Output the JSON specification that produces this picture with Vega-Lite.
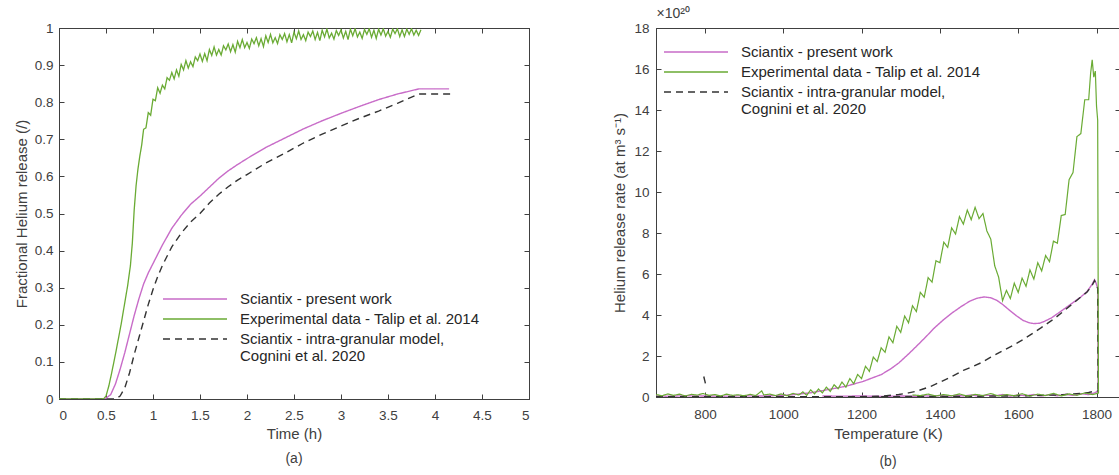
{
  "$schema": "https://vega.github.io/schema/vega-lite/v6.json",
  "padding": {"left": 13, "top": 6, "right": 0, "bottom": 5},
  "autosize": {"type": "pad"},
  "background": "white",
  "config": {
    "font": "Liberation Sans",
    "view": {"stroke": "#404040", "strokeWidth": 1},
    "concat": {"spacing": 127},
    "axis": {
      "grid": false,
      "domainColor": "#404040",
      "tickColor": "#404040",
      "tickSize": -5,
      "labelColor": "#404040",
      "labelFontSize": 13.5,
      "titleColor": "#404040",
      "titleFontSize": 15,
      "titleFontWeight": "normal"
    },
    "legend": {
      "orient": "none",
      "symbolType": "M-4,0H4",
      "symbolSize": 256,
      "symbolStrokeWidth": 1.5,
      "labelFontSize": 15,
      "labelColor": "#262626",
      "labelOffset": 36,
      "labelLimit": 500,
      "rowPadding": 3,
      "padding": 0,
      "title": null
    },
    "title": {"orient": "bottom", "fontSize": 14, "fontWeight": "normal", "color": "#404040"}
  },
  "bounds": "flush",
  "resolve": {"legend": {"color": "independent", "strokeDash": "independent"}},
  "datasets": {
    "a": [
      {"s":"S","t":0,"f":0},{"s":"S","t":0.45,"f":0},{"s":"S","t":0.5,"f":0.002},{"s":"S","t":0.55,"f":0.012},{"s":"S","t":0.6,"f":0.04},{"s":"S","t":0.65,"f":0.08},{"s":"S","t":0.7,"f":0.125},{"s":"S","t":0.75,"f":0.175},{"s":"S","t":0.8,"f":0.225},{"s":"S","t":0.85,"f":0.27},{"s":"S","t":0.9,"f":0.31},{"s":"S","t":0.95,"f":0.34},{"s":"S","t":1.0,"f":0.365},{"s":"S","t":1.1,"f":0.415},{"s":"S","t":1.2,"f":0.46},{"s":"S","t":1.3,"f":0.495},{"s":"S","t":1.4,"f":0.525},{"s":"S","t":1.5,"f":0.547},{"s":"S","t":1.6,"f":0.571},{"s":"S","t":1.7,"f":0.595},{"s":"S","t":1.8,"f":0.615},{"s":"S","t":1.9,"f":0.632},{"s":"S","t":2.0,"f":0.648},{"s":"S","t":2.2,"f":0.678},{"s":"S","t":2.4,"f":0.703},{"s":"S","t":2.6,"f":0.728},{"s":"S","t":2.8,"f":0.75},{"s":"S","t":3.0,"f":0.77},{"s":"S","t":3.2,"f":0.789},{"s":"S","t":3.4,"f":0.807},{"s":"S","t":3.6,"f":0.822},{"s":"S","t":3.83,"f":0.836},{"s":"S","t":4.15,"f":0.836},
      {"s":"E","t":0,"f":0},{"s":"E","t":0.45,"f":0},{"s":"E","t":0.48,"f":0.002},{"s":"E","t":0.5,"f":0.008},{"s":"E","t":0.53,"f":0.035},{"s":"E","t":0.56,"f":0.07},{"s":"E","t":0.6,"f":0.12},{"s":"E","t":0.63,"f":0.16},{"s":"E","t":0.66,"f":0.2},{"s":"E","t":0.7,"f":0.26},{"s":"E","t":0.73,"f":0.305},{"s":"E","t":0.76,"f":0.36},{"s":"E","t":0.78,"f":0.42},{"s":"E","t":0.8,"f":0.51},{"s":"E","t":0.82,"f":0.575},{"s":"E","t":0.84,"f":0.62},{"s":"E","t":0.86,"f":0.655},{"s":"E","t":0.88,"f":0.685},
      {"s":"E","t":0.9,"f":0.727},{"s":"E","t":0.925,"f":0.731},{"s":"E","t":0.95,"f":0.772},{"s":"E","t":0.975,"f":0.765},{"s":"E","t":1.0,"f":0.808},{"s":"E","t":1.025,"f":0.804},{"s":"E","t":1.05,"f":0.839},{"s":"E","t":1.075,"f":0.824},{"s":"E","t":1.1,"f":0.846},{"s":"E","t":1.125,"f":0.836},{"s":"E","t":1.15,"f":0.866},{"s":"E","t":1.175,"f":0.859},{"s":"E","t":1.2,"f":0.88},{"s":"E","t":1.225,"f":0.863},{"s":"E","t":1.25,"f":0.887},{"s":"E","t":1.275,"f":0.87},{"s":"E","t":1.3,"f":0.902},{"s":"E","t":1.325,"f":0.887},{"s":"E","t":1.35,"f":0.912},{"s":"E","t":1.375,"f":0.892},{"s":"E","t":1.4,"f":0.909},{"s":"E","t":1.425,"f":0.896},{"s":"E","t":1.45,"f":0.922},{"s":"E","t":1.475,"f":0.912},{"s":"E","t":1.5,"f":0.93},{"s":"E","t":1.525,"f":0.91},{"s":"E","t":1.55,"f":0.931},{"s":"E","t":1.575,"f":0.912},{"s":"E","t":1.6,"f":0.942},{"s":"E","t":1.625,"f":0.926},{"s":"E","t":1.65,"f":0.949},{"s":"E","t":1.675,"f":0.927},{"s":"E","t":1.7,"f":0.942},{"s":"E","t":1.725,"f":0.927},{"s":"E","t":1.75,"f":0.952},{"s":"E","t":1.775,"f":0.941},{"s":"E","t":1.8,"f":0.957},{"s":"E","t":1.825,"f":0.936},{"s":"E","t":1.85,"f":0.955},{"s":"E","t":1.875,"f":0.935},{"s":"E","t":1.9,"f":0.964},{"s":"E","t":1.925,"f":0.947},{"s":"E","t":1.95,"f":0.969},{"s":"E","t":1.975,"f":0.947},{"s":"E","t":2.0,"f":0.961},{"s":"E","t":2.025,"f":0.945},{"s":"E","t":2.05,"f":0.97},{"s":"E","t":2.075,"f":0.958},{"s":"E","t":2.1,"f":0.974},{"s":"E","t":2.125,"f":0.952},{"s":"E","t":2.15,"f":0.971},{"s":"E","t":2.175,"f":0.95},{"s":"E","t":2.2,"f":0.979},{"s":"E","t":2.225,"f":0.961},{"s":"E","t":2.25,"f":0.983},{"s":"E","t":2.275,"f":0.96},{"s":"E","t":2.3,"f":0.974},{"s":"E","t":2.325,"f":0.958},{"s":"E","t":2.35,"f":0.982},{"s":"E","t":2.375,"f":0.969},{"s":"E","t":2.4,"f":0.985},{"s":"E","t":2.425,"f":0.963},{"s":"E","t":2.45,"f":0.982},{"s":"E","t":2.475,"f":0.96},{"s":"E","t":2.5,"f":0.989},{"s":"E","t":2.525,"f":0.971},{"s":"E","t":2.55,"f":0.992},{"s":"E","t":2.575,"f":0.969},{"s":"E","t":2.6,"f":0.982},{"s":"E","t":2.625,"f":0.966},{"s":"E","t":2.65,"f":0.989},{"s":"E","t":2.675,"f":0.977},{"s":"E","t":2.7,"f":0.992},{"s":"E","t":2.725,"f":0.969},{"s":"E","t":2.75,"f":0.988},{"s":"E","t":2.775,"f":0.966},{"s":"E","t":2.8,"f":0.994},{"s":"E","t":2.825,"f":0.976},{"s":"E","t":2.85,"f":0.997},{"s":"E","t":2.875,"f":0.973},{"s":"E","t":2.9,"f":0.986},{"s":"E","t":2.925,"f":0.97},{"s":"E","t":2.95,"f":0.993},{"s":"E","t":2.975,"f":0.98},{"s":"E","t":3.0,"f":0.995},{"s":"E","t":3.025,"f":0.973},{"s":"E","t":3.05,"f":0.991},{"s":"E","t":3.075,"f":0.969},{"s":"E","t":3.1,"f":0.997},{"s":"E","t":3.125,"f":0.979},{"s":"E","t":3.15,"f":0.998},{"s":"E","t":3.175,"f":0.976},{"s":"E","t":3.2,"f":0.989},{"s":"E","t":3.225,"f":0.972},{"s":"E","t":3.25,"f":0.996},{"s":"E","t":3.275,"f":0.983},{"s":"E","t":3.3,"f":0.998},{"s":"E","t":3.325,"f":0.975},{"s":"E","t":3.35,"f":0.994},{"s":"E","t":3.375,"f":0.972},{"s":"E","t":3.4,"f":0.997},{"s":"E","t":3.425,"f":0.981},{"s":"E","t":3.45,"f":0.998},{"s":"E","t":3.475,"f":0.978},{"s":"E","t":3.5,"f":0.991},{"s":"E","t":3.525,"f":0.975},{"s":"E","t":3.55,"f":0.997},{"s":"E","t":3.575,"f":0.985},{"s":"E","t":3.6,"f":0.998},{"s":"E","t":3.625,"f":0.977},{"s":"E","t":3.65,"f":0.995},{"s":"E","t":3.675,"f":0.977},{"s":"E","t":3.7,"f":0.997},{"s":"E","t":3.725,"f":0.983},{"s":"E","t":3.75,"f":0.998},{"s":"E","t":3.775,"f":0.981},{"s":"E","t":3.8,"f":0.994},{"s":"E","t":3.825,"f":0.98},{"s":"E","t":3.85,"f":0.995},
      {"s":"C","t":0,"f":0},{"s":"C","t":0.6,"f":0},{"s":"C","t":0.65,"f":0.008},{"s":"C","t":0.7,"f":0.03},{"s":"C","t":0.75,"f":0.07},{"s":"C","t":0.8,"f":0.12},{"s":"C","t":0.85,"f":0.165},{"s":"C","t":0.9,"f":0.21},{"s":"C","t":0.95,"f":0.255},{"s":"C","t":1.0,"f":0.295},{"s":"C","t":1.05,"f":0.33},{"s":"C","t":1.1,"f":0.36},{"s":"C","t":1.2,"f":0.41},{"s":"C","t":1.3,"f":0.447},{"s":"C","t":1.4,"f":0.477},{"s":"C","t":1.5,"f":0.5},{"s":"C","t":1.6,"f":0.528},{"s":"C","t":1.7,"f":0.552},{"s":"C","t":1.8,"f":0.572},{"s":"C","t":1.9,"f":0.59},{"s":"C","t":2.0,"f":0.605},{"s":"C","t":2.2,"f":0.636},{"s":"C","t":2.4,"f":0.662},{"s":"C","t":2.6,"f":0.69},{"s":"C","t":2.8,"f":0.714},{"s":"C","t":3.0,"f":0.736},{"s":"C","t":3.2,"f":0.757},{"s":"C","t":3.4,"f":0.776},{"s":"C","t":3.6,"f":0.797},{"s":"C","t":3.83,"f":0.822},{"s":"C","t":4.17,"f":0.822}
    ],
    "b": [
      {"s":"S","g":"m","T":675,"r":0.05},{"s":"S","g":"m","T":700,"r":0.04},{"s":"S","g":"m","T":750,"r":0.06},{"s":"S","g":"m","T":800,"r":0.05},{"s":"S","g":"m","T":850,"r":0.04},{"s":"S","g":"m","T":900,"r":0.06},{"s":"S","g":"m","T":950,"r":0.05},{"s":"S","g":"m","T":1000,"r":0.08},{"s":"S","g":"m","T":1023,"r":0.11},{"s":"S","g":"m","T":1068,"r":0.2},{"s":"S","g":"m","T":1114,"r":0.36},{"s":"S","g":"m","T":1159,"r":0.52},{"s":"S","g":"m","T":1204,"r":0.76},{"s":"S","g":"m","T":1230,"r":0.95},{"s":"S","g":"m","T":1250,"r":1.09},{"s":"S","g":"m","T":1275,"r":1.38},{"s":"S","g":"m","T":1295,"r":1.66},{"s":"S","g":"m","T":1320,"r":2.1},{"s":"S","g":"m","T":1340,"r":2.47},{"s":"S","g":"m","T":1365,"r":2.95},{"s":"S","g":"m","T":1386,"r":3.37},{"s":"S","g":"m","T":1410,"r":3.78},{"s":"S","g":"m","T":1431,"r":4.1},{"s":"S","g":"m","T":1455,"r":4.42},{"s":"S","g":"m","T":1476,"r":4.67},{"s":"S","g":"m","T":1495,"r":4.82},{"s":"S","g":"m","T":1513,"r":4.88},{"s":"S","g":"m","T":1530,"r":4.84},{"s":"S","g":"m","T":1545,"r":4.72},{"s":"S","g":"m","T":1560,"r":4.52},{"s":"S","g":"m","T":1576,"r":4.26},{"s":"S","g":"m","T":1595,"r":3.97},{"s":"S","g":"m","T":1612,"r":3.74},{"s":"S","g":"m","T":1628,"r":3.62},{"s":"S","g":"m","T":1640,"r":3.58},{"s":"S","g":"m","T":1655,"r":3.6},{"s":"S","g":"m","T":1667,"r":3.69},{"s":"S","g":"m","T":1685,"r":3.86},{"s":"S","g":"m","T":1703,"r":4.1},{"s":"S","g":"m","T":1720,"r":4.33},{"s":"S","g":"m","T":1739,"r":4.59},{"s":"S","g":"m","T":1760,"r":4.88},{"s":"S","g":"m","T":1776,"r":5.15},{"s":"S","g":"m","T":1789,"r":5.5},{"s":"S","g":"m","T":1795,"r":5.72},{"s":"S","g":"m","T":1799,"r":5.55},{"s":"S","g":"m","T":1803,"r":5.3},{"s":"S","g":"m","T":1804,"r":0.3},
      {"s":"S","g":"r","T":1805,"r":0.3},{"s":"S","g":"r","T":1795,"r":0.2},{"s":"S","g":"r","T":1780,"r":0.12},{"s":"S","g":"r","T":1760,"r":0.16},{"s":"S","g":"r","T":1740,"r":0.08},{"s":"S","g":"r","T":1720,"r":0.13},{"s":"S","g":"r","T":1700,"r":0.06},{"s":"S","g":"r","T":1680,"r":0.11},{"s":"S","g":"r","T":1660,"r":0.05},{"s":"S","g":"r","T":1640,"r":0.12},{"s":"S","g":"r","T":1620,"r":0.06},{"s":"S","g":"r","T":1600,"r":0.1},{"s":"S","g":"r","T":1580,"r":0.04},{"s":"S","g":"r","T":1560,"r":0.12},{"s":"S","g":"r","T":1540,"r":0.05},{"s":"S","g":"r","T":1520,"r":0.09},{"s":"S","g":"r","T":1500,"r":0.04},{"s":"S","g":"r","T":1480,"r":0.1},{"s":"S","g":"r","T":1460,"r":0.05},{"s":"S","g":"r","T":1440,"r":0.08},{"s":"S","g":"r","T":1420,"r":0.03},{"s":"S","g":"r","T":1400,"r":0.07},{"s":"S","g":"r","T":1380,"r":0.04},{"s":"S","g":"r","T":1360,"r":0.06},{"s":"S","g":"r","T":1340,"r":0.03},{"s":"S","g":"r","T":1300,"r":0.05},{"s":"S","g":"r","T":1250,"r":0.03},{"s":"S","g":"r","T":1200,"r":0.05},{"s":"S","g":"r","T":1150,"r":0.04},{"s":"S","g":"r","T":1100,"r":0.05},
      {"s":"E","g":"m","T":675,"r":0.12},{"s":"E","g":"m","T":690,"r":0.06},{"s":"E","g":"m","T":705,"r":0.15},{"s":"E","g":"m","T":720,"r":0.08},{"s":"E","g":"m","T":735,"r":0.14},{"s":"E","g":"m","T":750,"r":0.05},{"s":"E","g":"m","T":765,"r":0.13},{"s":"E","g":"m","T":780,"r":0.09},{"s":"E","g":"m","T":795,"r":0.17},{"s":"E","g":"m","T":810,"r":0.08},{"s":"E","g":"m","T":825,"r":0.12},{"s":"E","g":"m","T":840,"r":0.05},{"s":"E","g":"m","T":855,"r":0.14},{"s":"E","g":"m","T":870,"r":0.08},{"s":"E","g":"m","T":885,"r":0.11},{"s":"E","g":"m","T":900,"r":0.06},{"s":"E","g":"m","T":915,"r":0.13},{"s":"E","g":"m","T":930,"r":0.07},{"s":"E","g":"m","T":945,"r":0.3},{"s":"E","g":"m","T":950,"r":0.1},{"s":"E","g":"m","T":965,"r":0.14},{"s":"E","g":"m","T":980,"r":0.07},{"s":"E","g":"m","T":995,"r":0.15},{"s":"E","g":"m","T":1010,"r":0.06},{"s":"E","g":"m","T":1025,"r":0.18},{"s":"E","g":"m","T":1040,"r":0.1},
      {"s":"E","g":"m","T":1050,"r":0.25},{"s":"E","g":"m","T":1060,"r":0.08},{"s":"E","g":"m","T":1070,"r":0.35},{"s":"E","g":"m","T":1080,"r":0.15},{"s":"E","g":"m","T":1090,"r":0.39},{"s":"E","g":"m","T":1100,"r":0.2},{"s":"E","g":"m","T":1110,"r":0.48},{"s":"E","g":"m","T":1120,"r":0.27},{"s":"E","g":"m","T":1130,"r":0.6},{"s":"E","g":"m","T":1140,"r":0.4},{"s":"E","g":"m","T":1150,"r":0.73},{"s":"E","g":"m","T":1160,"r":0.48},{"s":"E","g":"m","T":1170,"r":0.9},{"s":"E","g":"m","T":1180,"r":0.65},{"s":"E","g":"m","T":1190,"r":1.1},{"s":"E","g":"m","T":1200,"r":0.9},{"s":"E","g":"m","T":1210,"r":1.5},{"s":"E","g":"m","T":1220,"r":1.25},{"s":"E","g":"m","T":1230,"r":1.95},{"s":"E","g":"m","T":1240,"r":1.73},{"s":"E","g":"m","T":1250,"r":2.4},{"s":"E","g":"m","T":1260,"r":2.18},{"s":"E","g":"m","T":1270,"r":2.93},{"s":"E","g":"m","T":1280,"r":2.65},{"s":"E","g":"m","T":1290,"r":3.45},{"s":"E","g":"m","T":1300,"r":3.15},{"s":"E","g":"m","T":1310,"r":3.95},{"s":"E","g":"m","T":1320,"r":3.62},{"s":"E","g":"m","T":1330,"r":4.45},{"s":"E","g":"m","T":1340,"r":4.17},{"s":"E","g":"m","T":1350,"r":5.1},{"s":"E","g":"m","T":1360,"r":4.87},{"s":"E","g":"m","T":1370,"r":5.82},{"s":"E","g":"m","T":1380,"r":5.6},{"s":"E","g":"m","T":1390,"r":6.65},{"s":"E","g":"m","T":1400,"r":6.55},{"s":"E","g":"m","T":1410,"r":7.55},{"s":"E","g":"m","T":1420,"r":7.3},{"s":"E","g":"m","T":1430,"r":8.25},{"s":"E","g":"m","T":1440,"r":7.95},{"s":"E","g":"m","T":1450,"r":8.8},{"s":"E","g":"m","T":1460,"r":8.43},{"s":"E","g":"m","T":1470,"r":9.12},{"s":"E","g":"m","T":1480,"r":8.65},{"s":"E","g":"m","T":1490,"r":9.25},{"s":"E","g":"m","T":1500,"r":8.7},{"s":"E","g":"m","T":1510,"r":8.95},{"s":"E","g":"m","T":1520,"r":8.1},{"s":"E","g":"m","T":1530,"r":7.7},{"s":"E","g":"m","T":1540,"r":6.4},{"s":"E","g":"m","T":1550,"r":5.85},{"s":"E","g":"m","T":1560,"r":4.7},{"s":"E","g":"m","T":1570,"r":5.2},{"s":"E","g":"m","T":1580,"r":4.8},{"s":"E","g":"m","T":1590,"r":5.55},{"s":"E","g":"m","T":1600,"r":5.1},{"s":"E","g":"m","T":1610,"r":5.8},{"s":"E","g":"m","T":1620,"r":5.4},{"s":"E","g":"m","T":1630,"r":6.2},{"s":"E","g":"m","T":1640,"r":5.75},{"s":"E","g":"m","T":1650,"r":6.55},{"s":"E","g":"m","T":1660,"r":6.15},{"s":"E","g":"m","T":1670,"r":6.9},{"s":"E","g":"m","T":1680,"r":6.6},{"s":"E","g":"m","T":1690,"r":7.6},{"s":"E","g":"m","T":1700,"r":7.5},{"s":"E","g":"m","T":1710,"r":8.85},{"s":"E","g":"m","T":1720,"r":8.9},{"s":"E","g":"m","T":1730,"r":10.6},{"s":"E","g":"m","T":1740,"r":10.95},{"s":"E","g":"m","T":1750,"r":12.7},{"s":"E","g":"m","T":1760,"r":12.85},{"s":"E","g":"m","T":1770,"r":14.5},{"s":"E","g":"m","T":1780,"r":14.5},{"s":"E","g":"m","T":1785,"r":15.8},{"s":"E","g":"m","T":1789,"r":16.45},{"s":"E","g":"m","T":1793,"r":15.6},{"s":"E","g":"m","T":1797,"r":15.9},{"s":"E","g":"m","T":1800,"r":14.2},{"s":"E","g":"m","T":1803,"r":13.5},{"s":"E","g":"m","T":1805,"r":0.2},
      {"s":"E","g":"r","T":1806,"r":0.2},{"s":"E","g":"r","T":1790,"r":0.12},{"s":"E","g":"r","T":1770,"r":0.2},{"s":"E","g":"r","T":1750,"r":0.08},{"s":"E","g":"r","T":1730,"r":0.15},{"s":"E","g":"r","T":1710,"r":0.05},{"s":"E","g":"r","T":1690,"r":0.18},{"s":"E","g":"r","T":1670,"r":0.07},{"s":"E","g":"r","T":1650,"r":0.14},{"s":"E","g":"r","T":1630,"r":0.04},{"s":"E","g":"r","T":1610,"r":0.16},{"s":"E","g":"r","T":1590,"r":0.06},{"s":"E","g":"r","T":1570,"r":0.12},{"s":"E","g":"r","T":1550,"r":0.05},{"s":"E","g":"r","T":1530,"r":0.17},{"s":"E","g":"r","T":1510,"r":0.07},{"s":"E","g":"r","T":1490,"r":0.13},{"s":"E","g":"r","T":1470,"r":0.04},{"s":"E","g":"r","T":1450,"r":0.15},{"s":"E","g":"r","T":1430,"r":0.06},{"s":"E","g":"r","T":1410,"r":0.12},{"s":"E","g":"r","T":1390,"r":0.05},{"s":"E","g":"r","T":1370,"r":0.14},{"s":"E","g":"r","T":1350,"r":0.07},{"s":"E","g":"r","T":1330,"r":0.1},
      {"s":"C","g":"m","T":675,"r":0.02},{"s":"C","g":"m","T":800,"r":0.02},{"s":"C","g":"m","T":1000,"r":0.02},{"s":"C","g":"m","T":1200,"r":0.02},{"s":"C","g":"m","T":1250,"r":0.04},{"s":"C","g":"m","T":1295,"r":0.12},{"s":"C","g":"m","T":1320,"r":0.2},{"s":"C","g":"m","T":1340,"r":0.28},{"s":"C","g":"m","T":1377,"r":0.52},{"s":"C","g":"m","T":1400,"r":0.72},{"s":"C","g":"m","T":1431,"r":1.0},{"s":"C","g":"m","T":1460,"r":1.3},{"s":"C","g":"m","T":1480,"r":1.45},{"s":"C","g":"m","T":1504,"r":1.66},{"s":"C","g":"m","T":1530,"r":1.94},{"s":"C","g":"m","T":1558,"r":2.23},{"s":"C","g":"m","T":1585,"r":2.5},{"s":"C","g":"m","T":1612,"r":2.8},{"s":"C","g":"m","T":1635,"r":3.08},{"s":"C","g":"m","T":1658,"r":3.37},{"s":"C","g":"m","T":1694,"r":3.85},{"s":"C","g":"m","T":1720,"r":4.25},{"s":"C","g":"m","T":1739,"r":4.55},{"s":"C","g":"m","T":1760,"r":4.88},{"s":"C","g":"m","T":1776,"r":5.12},{"s":"C","g":"m","T":1789,"r":5.45},{"s":"C","g":"m","T":1795,"r":5.68},{"s":"C","g":"m","T":1799,"r":5.5},{"s":"C","g":"m","T":1803,"r":5.3},{"s":"C","g":"m","T":1804,"r":0.3},
      {"s":"C","g":"r","T":1805,"r":0.3},{"s":"C","g":"r","T":1795,"r":0.28},{"s":"C","g":"r","T":1780,"r":0.22},{"s":"C","g":"r","T":1760,"r":0.18},{"s":"C","g":"r","T":1740,"r":0.15},{"s":"C","g":"r","T":1720,"r":0.12},{"s":"C","g":"r","T":1700,"r":0.1},{"s":"C","g":"r","T":1660,"r":0.08},{"s":"C","g":"r","T":1620,"r":0.06},{"s":"C","g":"r","T":1560,"r":0.05},{"s":"C","g":"r","T":1500,"r":0.04},{"s":"C","g":"r","T":1440,"r":0.03},{"s":"C","g":"r","T":1380,"r":0.03},{"s":"C","g":"r","T":1300,"r":0.02},{"s":"C","g":"r","T":1250,"r":0.02},
      {"s":"C","g":"k","T":797,"r":1.0},{"s":"C","g":"k","T":802,"r":0.6}
    ]
  },
  "hconcat": [
    {
      "width": 470,
      "height": 371,
      "title": {"text": "(a)", "offset": 10},
      "data": {"name": "a"},
      "layer": [
        {
          "transform": [{"filter": "datum.s != 'E'"}],
          "mark": {"type": "line", "strokeWidth": 1.4, "clip": true},
          "encoding": {
            "x": {"field": "t", "type": "quantitative", "scale": {"domain": [0, 5], "nice": false},
                  "axis": {"orient": "bottom", "title": "Time (h)", "values": [0,0.5,1,1.5,2,2.5,3,3.5,4,4.5,5], "format": "~g", "labelPadding": 14, "titlePadding": 5}},
            "y": {"field": "f", "type": "quantitative", "scale": {"domain": [0, 1], "nice": false},
                  "axis": {"orient": "left", "title": "Fractional Helium release  (/)", "values": [0,0.1,0.2,0.3,0.4,0.5,0.6,0.7,0.8,0.9,1], "format": "~g", "labelPadding": 11, "titlePadding": 5}},
            "color": {"field": "s", "type": "nominal", "scale": {"domain": ["S","E","C"], "range": ["#c86cc8","#6aab34","#333333"]},
                      "legend": {"legendX": 127, "legendY": 262, "labelExpr": "datum.label == 'S' ? 'Sciantix - present work' : datum.label == 'E' ? 'Experimental  data - Talip et al. 2014' : ['Sciantix - intra-granular model,', 'Cognini et al. 2020']"}},
            "strokeDash": {"field": "s", "type": "nominal", "scale": {"domain": ["S","E","C"], "range": [[1,0],[1,0],[7,5]]},
                      "legend": {"legendX": 127, "legendY": 262, "labelExpr": "datum.label == 'S' ? 'Sciantix - present work' : datum.label == 'E' ? 'Experimental  data - Talip et al. 2014' : ['Sciantix - intra-granular model,', 'Cognini et al. 2020']"}}
          }
        },
        {
          "transform": [{"filter": "datum.s == 'E'"}],
          "mark": {"type": "line", "strokeWidth": 1.3, "clip": true},
          "encoding": {
            "x": {"field": "t", "type": "quantitative", "scale": {"domain": [0, 5], "nice": false},
                  "axis": {"orient": "top", "title": null, "labels": false, "values": [0,0.5,1,1.5,2,2.5,3,3.5,4,4.5,5]}},
            "y": {"field": "f", "type": "quantitative", "scale": {"domain": [0, 1], "nice": false},
                  "axis": {"orient": "right", "title": null, "labels": false, "values": [0,0.1,0.2,0.3,0.4,0.5,0.6,0.7,0.8,0.9,1]}},
            "color": {"field": "s", "type": "nominal"},
            "strokeDash": {"field": "s", "type": "nominal"}
          }
        }
      ],
      "resolve": {"axis": {"x": "independent", "y": "independent"}}
    },
    {
      "width": 464,
      "height": 369,
      "title": {"text": "(b)", "offset": 13},
      "data": {"name": "b"},
      "layer": [
        {
          "transform": [{"filter": "datum.s != 'E'"}],
          "mark": {"type": "line", "strokeWidth": 1.4, "clip": true},
          "encoding": {
            "x": {"field": "T", "type": "quantitative", "scale": {"domain": [675, 1860], "nice": false},
                  "axis": {"orient": "bottom", "title": "Temperature (K)", "values": [800,1000,1200,1400,1600,1800], "format": "d", "labelPadding": 15, "titlePadding": 6}},
            "y": {"field": "r", "type": "quantitative", "scale": {"domain": [0, 18], "nice": false},
                  "axis": {"orient": "left", "title": "Helium release rate (at m³ s⁻¹)", "values": [0,2,4,6,8,10,12,14,16,18], "labelPadding": 12, "titlePadding": 6}},
            "detail": {"field": "g"},
            "color": {"field": "s", "type": "nominal", "scale": {"domain": ["S","E","C"], "range": ["#c86cc8","#6aab34","#333333"]},
                      "legend": {"legendX": 31, "legendY": 15, "labelExpr": "datum.label == 'S' ? 'Sciantix - present work' : datum.label == 'E' ? 'Experimental  data - Talip et al. 2014' : ['Sciantix - intra-granular model,', 'Cognini et al. 2020']"}},
            "strokeDash": {"field": "s", "type": "nominal", "scale": {"domain": ["S","E","C"], "range": [[1,0],[1,0],[7,5]]},
                      "legend": {"legendX": 31, "legendY": 15, "labelExpr": "datum.label == 'S' ? 'Sciantix - present work' : datum.label == 'E' ? 'Experimental  data - Talip et al. 2014' : ['Sciantix - intra-granular model,', 'Cognini et al. 2020']"}}
          }
        },
        {
          "transform": [{"filter": "datum.s == 'E'"}],
          "mark": {"type": "line", "strokeWidth": 1.2, "clip": true},
          "encoding": {
            "x": {"field": "T", "type": "quantitative", "scale": {"domain": [675, 1860], "nice": false},
                  "axis": {"orient": "top", "title": "×10²⁰", "titleAnchor": "start", "titleAlign": "left", "titleFontSize": 14, "titlePadding": 7, "labels": false, "values": [800,1000,1200,1400,1600,1800]}},
            "y": {"field": "r", "type": "quantitative", "scale": {"domain": [0, 18], "nice": false},
                  "axis": {"orient": "right", "title": null, "labels": false, "values": [0,2,4,6,8,10,12,14,16,18]}},
            "detail": {"field": "g"},
            "color": {"field": "s", "type": "nominal"},
            "strokeDash": {"field": "s", "type": "nominal"}
          }
        }
      ],
      "resolve": {"axis": {"x": "independent", "y": "independent"}}
    }
  ]
}
